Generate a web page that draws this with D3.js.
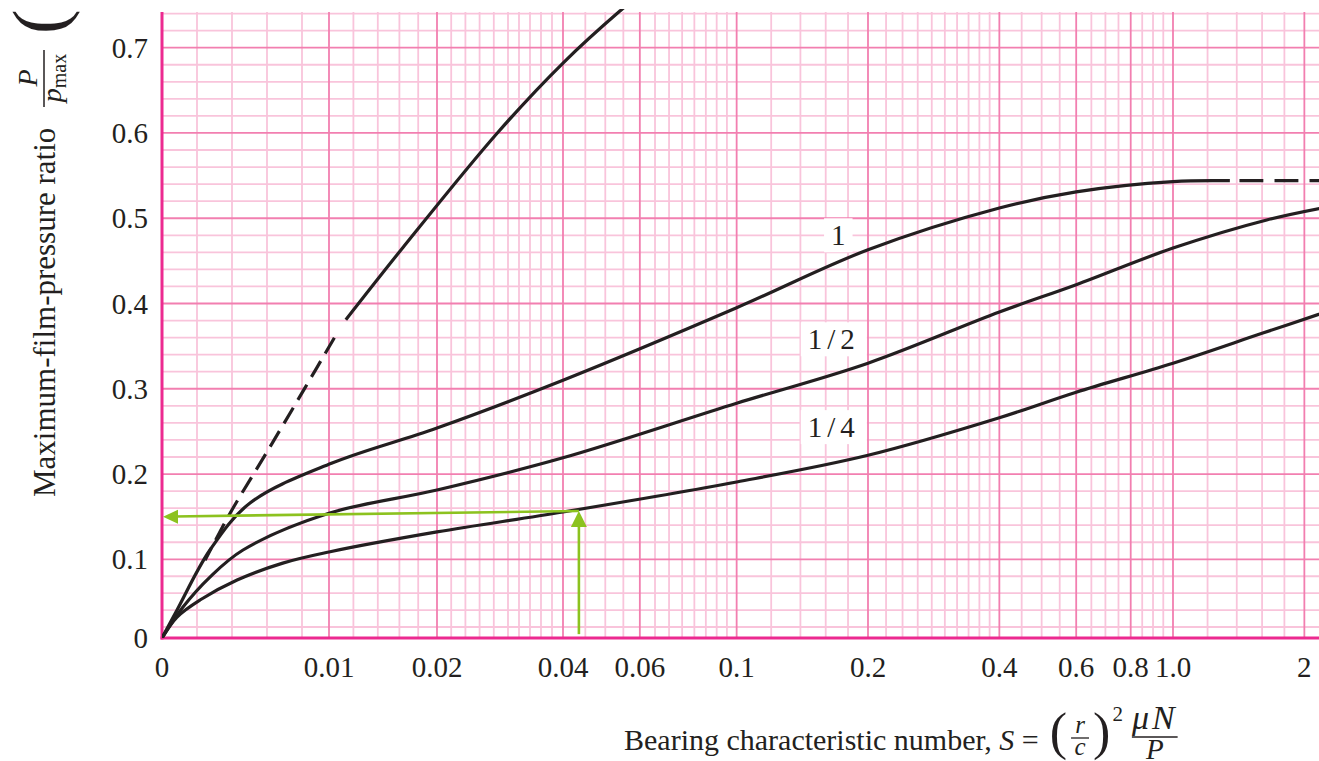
<!DOCTYPE html>
<html>
<head>
<meta charset="utf-8">
<script src="https://cdn.jsdelivr.net/npm/d3@7"></script>
<style>
html,body{margin:0;padding:0;background:#fff;overflow:hidden}
svg{display:block}
</style>
</head>
<body>
<svg id="chart" width="1319" height="761"></svg>
<script>
// ---------------- DATA ----------------
const xTickValues = [0, 0.01, 0.02, 0.04, 0.06, 0.1, 0.2, 0.4, 0.6, 0.8, 1.0, 2];
const xTickLabels = ["0", "0.01", "0.02", "0.04", "0.06", "0.1", "0.2", "0.4", "0.6", "0.8", "1.0", "2"];
const xMinorGrid = [0.002, 0.004, 0.006, 0.008, 0.012, 0.014, 0.016, 0.018,
  0.022, 0.024, 0.026, 0.028, 0.03, 0.032, 0.034, 0.036, 0.038,
  0.045, 0.05, 0.055, 0.065, 0.07, 0.075, 0.08, 0.085, 0.09, 0.095,
  0.12, 0.14, 0.16, 0.18, 0.22, 0.24, 0.26, 0.28, 0.3, 0.32, 0.34, 0.36, 0.38,
  0.45, 0.5, 0.55, 0.65, 0.7, 0.75, 0.85, 0.9, 0.95, 1.2, 1.4, 1.6, 1.8];
const yTickValues = [0, 0.1, 0.2, 0.3, 0.4, 0.5, 0.6, 0.7];
const yTickLabels = ["0", "0.1", "0.2", "0.3", "0.4", "0.5", "0.6", "0.7"];
const yMinorGrid = [0.02, 0.04, 0.06, 0.08, 0.12, 0.14, 0.16, 0.18, 0.22, 0.24, 0.26, 0.28,
  0.32, 0.34, 0.36, 0.38, 0.42, 0.44, 0.46, 0.48, 0.52, 0.54, 0.56, 0.58,
  0.62, 0.64, 0.66, 0.68, 0.72, 0.74];

// l/d = infinity (steep curve): dashed lower part, solid upper part
const curveInfDashS = [0.00246, 0.00389, 0.00606, 0.00822, 0.01057];
const curveInfDashP = [0.099, 0.154, 0.228, 0.301, 0.363];
const curveInfS = [0.01138, 0.0164, 0.0285, 0.04, 0.054, 0.062];
const curveInfP = [0.381, 0.466, 0.600, 0.682, 0.743, 0.768];

// l/d = 1
const curve1S = [0, 0.00086, 0.00274, 0.00503, 0.0102, 0.02, 0.04, 0.1, 0.2, 0.4, 0.6, 1.0, 1.35];
const curve1P = [0, 0.0401, 0.1109, 0.166, 0.2126, 0.254, 0.310, 0.395, 0.463, 0.512, 0.531, 0.543, 0.544];
const curve1DashS = [1.42, 1.8, 2.4];
const curve1DashP = [0.544, 0.544, 0.544];

// l/d = 1/2
const curveHalfS = [0, 0.0012, 0.00274, 0.00463, 0.01, 0.02, 0.04, 0.1, 0.2, 0.4, 0.6, 1.0, 1.64, 2.3];
const curveHalfP = [0, 0.0436, 0.079, 0.1109, 0.154, 0.1813, 0.219, 0.283, 0.330, 0.390, 0.422, 0.465, 0.498, 0.514];

// l/d = 1/4
const curveQuarterS = [0, 0.00086, 0.00217, 0.00429, 0.0069, 0.01, 0.02, 0.04, 0.1, 0.2, 0.4, 0.6, 1.0, 1.6, 2.3];
const curveQuarterP = [0, 0.0318, 0.0519, 0.0755, 0.0955, 0.1086, 0.1321, 0.1555, 0.1907, 0.222, 0.266, 0.296, 0.330, 0.365, 0.392];

const curveLabels = ["1", "1/2", "1/4"];
const curveLabelS = [0.171, 0.167, 0.167];
const curveLabelP = [0.480, 0.358, 0.255];

// green reading arrows
const arrowS = 0.0435;
const arrowP = 0.1566;
const arrowLeftP = 0.150;
const arrowBaseP = 0.007;

// ---------------- SCALES ----------------
const serif = "'Liberation Serif', 'Times New Roman', Times, serif";
const xLow = d3.scaleLinear().domain([0, 0.008, 0.01, 0.015, 0.02, 0.03, 0.04]).range([162, 302, 329, 390, 437, 508, 563]);
const xLog = d3.scaleLog().domain([0.04, 1]).range([563, 1173]);
const x = s => (s <= 0.04 ? xLow(s) : xLog(s));
const y = d3.scaleLinear().domain([0, 0.02, 0.1, 0.7]).range([638, 627, 559.3, 47.7]);

const plotLeft = 162, plotRight = 1319, plotBottom = 638, plotTop = y(0.742);

const svg = d3.select("#chart");
svg.append("rect").attr("width", 1319).attr("height", 761).attr("fill", "#fff");

const defs = svg.append("defs");
defs.append("clipPath").attr("id", "plotClip").append("rect")
  .attr("x", plotLeft).attr("y", 9).attr("width", plotRight - plotLeft).attr("height", plotBottom - 9);

// ---------------- GRID ----------------
const minorColor = "#f9c4db";
const majorColor = "#f27fb0";
const axisColor = "#ec2a90";
const grid = svg.append("g");

grid.selectAll("line.hminor").data(yMinorGrid).join("line").attr("class", "hminor")
  .attr("x1", plotLeft).attr("x2", plotRight).attr("y1", d => y(d)).attr("y2", d => y(d))
  .attr("stroke", minorColor).attr("stroke-width", 1.8);
grid.selectAll("line.vminor").data(xMinorGrid).join("line").attr("class", "vminor")
  .attr("x1", d => x(d)).attr("x2", d => x(d)).attr("y1", plotTop).attr("y2", plotBottom)
  .attr("stroke", minorColor).attr("stroke-width", 1.8);
grid.selectAll("line.hmajor").data(yTickValues.filter(v => v > 0)).join("line").attr("class", "hmajor")
  .attr("x1", plotLeft).attr("x2", plotRight).attr("y1", d => y(d)).attr("y2", d => y(d))
  .attr("stroke", majorColor).attr("stroke-width", 1.8);
grid.selectAll("line.vmajor").data(xTickValues.filter(v => v > 0)).join("line").attr("class", "vmajor")
  .attr("x1", d => x(d)).attr("x2", d => x(d)).attr("y1", plotTop).attr("y2", plotBottom)
  .attr("stroke", majorColor).attr("stroke-width", 1.8);

// axes lines
grid.append("line").attr("x1", x(0)).attr("x2", x(0)).attr("y1", plotTop).attr("y2", plotBottom + 1.5)
  .attr("stroke", axisColor).attr("stroke-width", 3);
grid.append("line").attr("x1", x(0) - 1.5).attr("x2", plotRight).attr("y1", y(0)).attr("y2", y(0))
  .attr("stroke", axisColor).attr("stroke-width", 3);

// ---------------- CURVES ----------------
const zip = (S, P) => S.map((s, i) => ({ s: s, p: P[i] }));
const line = d3.line().x(d => x(d.s)).y(d => y(d.p)).curve(d3.curveCatmullRom.alpha(0.5));
const curves = svg.append("g").attr("clip-path", "url(#plotClip)")
  .attr("fill", "none").attr("stroke", "#231f20").attr("stroke-width", 3.2).attr("stroke-linecap", "butt");

curves.append("path").attr("d", line(zip(curveQuarterS, curveQuarterP)));
curves.append("path").attr("d", line(zip(curveHalfS, curveHalfP)));
curves.append("path").attr("d", line(zip(curve1S, curve1P)));
curves.append("path").attr("d", line(zip(curve1DashS, curve1DashP))).attr("stroke-dasharray", "24 11");
curves.append("path").attr("d", line(zip(curveInfS, curveInfP)));
curves.append("path").attr("d", line(zip(curveInfDashS, curveInfDashP))).attr("stroke-dasharray", "18 9").attr("stroke-dashoffset", 4);

// ---------------- CURVE LABELS ----------------
const labG = svg.append("g").attr("font-family", serif).attr("font-size", 29).attr("fill", "#231f20");
curveLabels.forEach((t, i) => {
  const cx = x(curveLabelS[i]), cy = y(curveLabelP[i]);
  const bg = labG.append("rect").attr("fill", "#fff");
  const tx = labG.append("text").attr("x", cx).attr("y", cy + 10).attr("text-anchor", "middle")
    .attr("letter-spacing", t.length > 1 ? 5 : 0).text(t);
  const bb = tx.node().getBBox();
  bg.attr("x", cx - bb.width / 2 - 7).attr("y", cy - 17).attr("width", bb.width + 14).attr("height", 34);
});

// ---------------- GREEN ARROWS ----------------
const green = "#8cc21f";
const ar = svg.append("g");
ar.append("line").attr("x1", x(arrowS)).attr("x2", x(arrowS))
  .attr("y1", y(arrowBaseP)).attr("y2", y(arrowP) + 12)
  .attr("stroke", green).attr("stroke-width", 2.6);
ar.append("path").attr("fill", green)
  .attr("d", `M${x(arrowS)},${y(arrowP)} L${x(arrowS) - 8},${y(arrowP) + 16} L${x(arrowS) + 8},${y(arrowP) + 16} Z`);
ar.append("line").attr("x1", x(arrowS)).attr("x2", x(0) + 12)
  .attr("y1", y(arrowP)).attr("y2", y(arrowLeftP) - 0.2)
  .attr("stroke", green).attr("stroke-width", 2.6);
ar.append("path").attr("fill", green)
  .attr("d", `M${x(0) + 1},${y(arrowLeftP)} L${x(0) + 16},${y(arrowLeftP) - 7} L${x(0) + 16},${y(arrowLeftP) + 7} Z`);

// ---------------- TICK LABELS ----------------
const tickG = svg.append("g").attr("font-family", serif).attr("font-size", 29).attr("fill", "#231f20");
tickG.selectAll("text.xt").data(xTickValues).join("text").attr("class", "xt")
  .attr("x", d => x(d)).attr("y", 677).attr("text-anchor", "middle")
  .text((d, i) => xTickLabels[i]);
tickG.selectAll("text.yt").data(yTickValues).join("text").attr("class", "yt")
  .attr("x", 148).attr("y", d => y(d) + 10).attr("text-anchor", "end")
  .text((d, i) => yTickLabels[i]);

// ---------------- X AXIS TITLE ----------------
const tg = svg.append("g").attr("font-family", serif).attr("fill", "#231f20");
const x0 = 624;
const t1 = tg.append("text").attr("x", x0).attr("y", 750).attr("font-size", 30);
t1.append("tspan").text("Bearing characteristic number, ");
t1.append("tspan").attr("font-style", "italic").text("S");
t1.append("tspan").text(" =");
let cx = x0 + t1.node().getComputedTextLength() + 11;
const pl = tg.append("text").attr("x", cx).attr("y", 749).attr("font-size", 52).text("(");
cx += pl.node().getComputedTextLength() + 4;
const fracW = 18;
tg.append("text").attr("x", cx + fracW / 2).attr("y", 733).attr("font-size", 25).attr("font-style", "italic")
  .attr("text-anchor", "middle").text("r");
tg.append("line").attr("x1", cx).attr("x2", cx + fracW).attr("y1", 738).attr("y2", 738)
  .attr("stroke", "#231f20").attr("stroke-width", 1.3);
tg.append("text").attr("x", cx + fracW / 2).attr("y", 755).attr("font-size", 25).attr("font-style", "italic")
  .attr("text-anchor", "middle").text("c");
cx += fracW + 4;
const pr = tg.append("text").attr("x", cx).attr("y", 749).attr("font-size", 52).text(")");
cx += pr.node().getComputedTextLength() + 2;
const sup = tg.append("text").attr("x", cx).attr("y", 721).attr("font-size", 21).text("2");
cx += sup.node().getComputedTextLength() + 9;
const mn = tg.append("text").attr("x", cx).attr("y", 729).attr("font-size", 34).attr("font-style", "italic")
  .attr("letter-spacing", 3).text("\u03bcN");
const mnW = mn.node().getComputedTextLength();
tg.append("line").attr("x1", cx).attr("x2", cx + mnW).attr("y1", 737).attr("y2", 737)
  .attr("stroke", "#231f20").attr("stroke-width", 1.5);
tg.append("text").attr("x", cx + mnW / 2).attr("y", 759).attr("font-size", 29).attr("font-style", "italic")
  .attr("text-anchor", "middle").text("P");

// ---------------- Y AXIS TITLE (rotated) ----------------
const yt = svg.append("g").attr("transform", "rotate(-90)").attr("font-family", serif).attr("fill", "#231f20");
yt.append("text").attr("x", -497).attr("y", 55).attr("font-size", 31).text("Maximum-film-pressure ratio");
yt.append("text").attr("x", -78).attr("y", 37).attr("font-size", 28).attr("font-style", "italic")
  .attr("text-anchor", "middle").text("P");
yt.append("line").attr("x1", -107).attr("x2", -50).attr("y1", 44).attr("y2", 44)
  .attr("stroke", "#231f20").attr("stroke-width", 1.5);
const den = yt.append("text").attr("x", -78).attr("y", 61).attr("font-size", 28).attr("text-anchor", "middle");
den.append("tspan").attr("font-style", "italic").text("p");
den.append("tspan").attr("font-size", 20).attr("dy", 5).text("max");
yt.append("text").attr("x", -34).attr("y", 64).attr("font-size", 74).text("(");
</script>
</body>
</html>
